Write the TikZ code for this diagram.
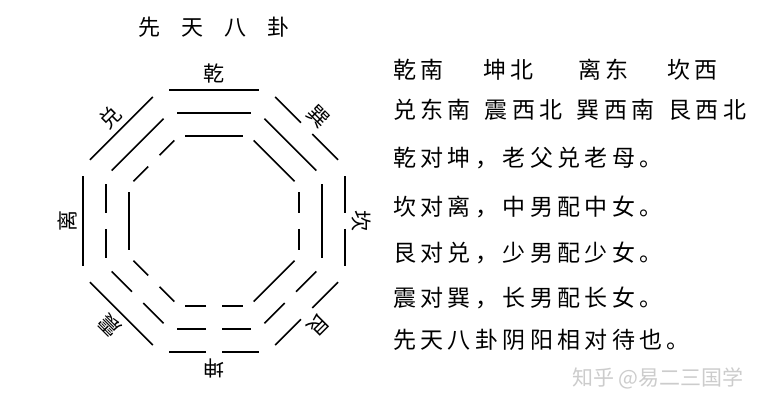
\documentclass[tikz,border=0pt]{standalone}
\usepackage{fontspec}
\setmainfont{Noto Sans CJK SC}
\newfontfamily\bodyfont[LetterSpace=19]{Noto Sans CJK SC}

\tikzset{
  yao/.style={line width=1.7pt},
  gua/.style={font=\fontsize{21}{21}\selectfont, inner sep=0pt},
  verse/.style={anchor=west, inner sep=0pt, font=\bodyfont\fontsize{23}{23}\selectfont},
}
% 爻 (距離 #1)
\newcommand{\yangyao}[1]{\draw[yao] (-0.34*#1,#1) -- (0.34*#1,#1);}
\newcommand{\yinyao}[1]{\draw[yao] (-0.34*#1,#1) -- (-8,#1) (8,#1) -- (0.34*#1,#1);}
\newcommand{\yaoat}[2]{\ifnum#1=1 \yangyao{#2}\else\yinyao{#2}\fi}

\begin{document}
\begin{tikzpicture}[x=1pt, y=1pt]
	\useasboundingbox (0,0) rectangle (778,404);

	% タイトル
	\node[font=\fontsize{22}{22}\selectfont] (title) at (214,377) {先\hspace{21pt}天\hspace{21pt}八\hspace{21pt}卦};

	% 八卦を描く
	\foreach \ang/\ya/\yb/\yc/\gname in {90/1/1/1/乾, 45/0/1/1/巽, 0/0/1/0/坎, -45/0/0/1/艮,
			-90/0/0/0/坤, -135/1/0/0/震, 180/1/0/1/离, 135/1/1/0/兑} {
		\begin{scope}[shift={(214,183)}, rotate=\ang-90]
			\yaoat{\ya}{131}
			\yaoat{\yb}{108}
			\yaoat{\yc}{85}
			\node[gua, rotate=\ang-90] (g\ang) at (0,147) {\gname};
		\end{scope}
	}

	% 文を入れる
	\node[verse] (s1) at (393,334) {乾南};
	\node[verse] (s2) at (483,334) {坤北};
	\node[verse] (s3) at (578,334) {离东};
	\node[verse] (s4) at (667,334) {坎西};
	\node[verse] (l2) at (393,294) {兑东南\hspace{14pt}震西北\hspace{14pt}巽西南\hspace{14pt}艮西北};
	\node[verse] (l3) at (393,246) {乾对坤，老父兑老母。};
	\node[verse] (l4) at (393,197) {坎对离，中男配中女。};
	\node[verse] (l5) at (393,151) {艮对兑，少男配少女。};
	\node[verse] (l6) at (393,106) {震对巽，长男配长女。};
	\node[verse] (l7) at (393,64) {先天八卦阴阳相对待也。};

	\node[anchor=west, inner sep=0pt, text=black!20, font=\fontsize{21}{21}\selectfont] (mark) at (572,26) {知乎 @易二三国学};
\end{tikzpicture}
\end{document}
